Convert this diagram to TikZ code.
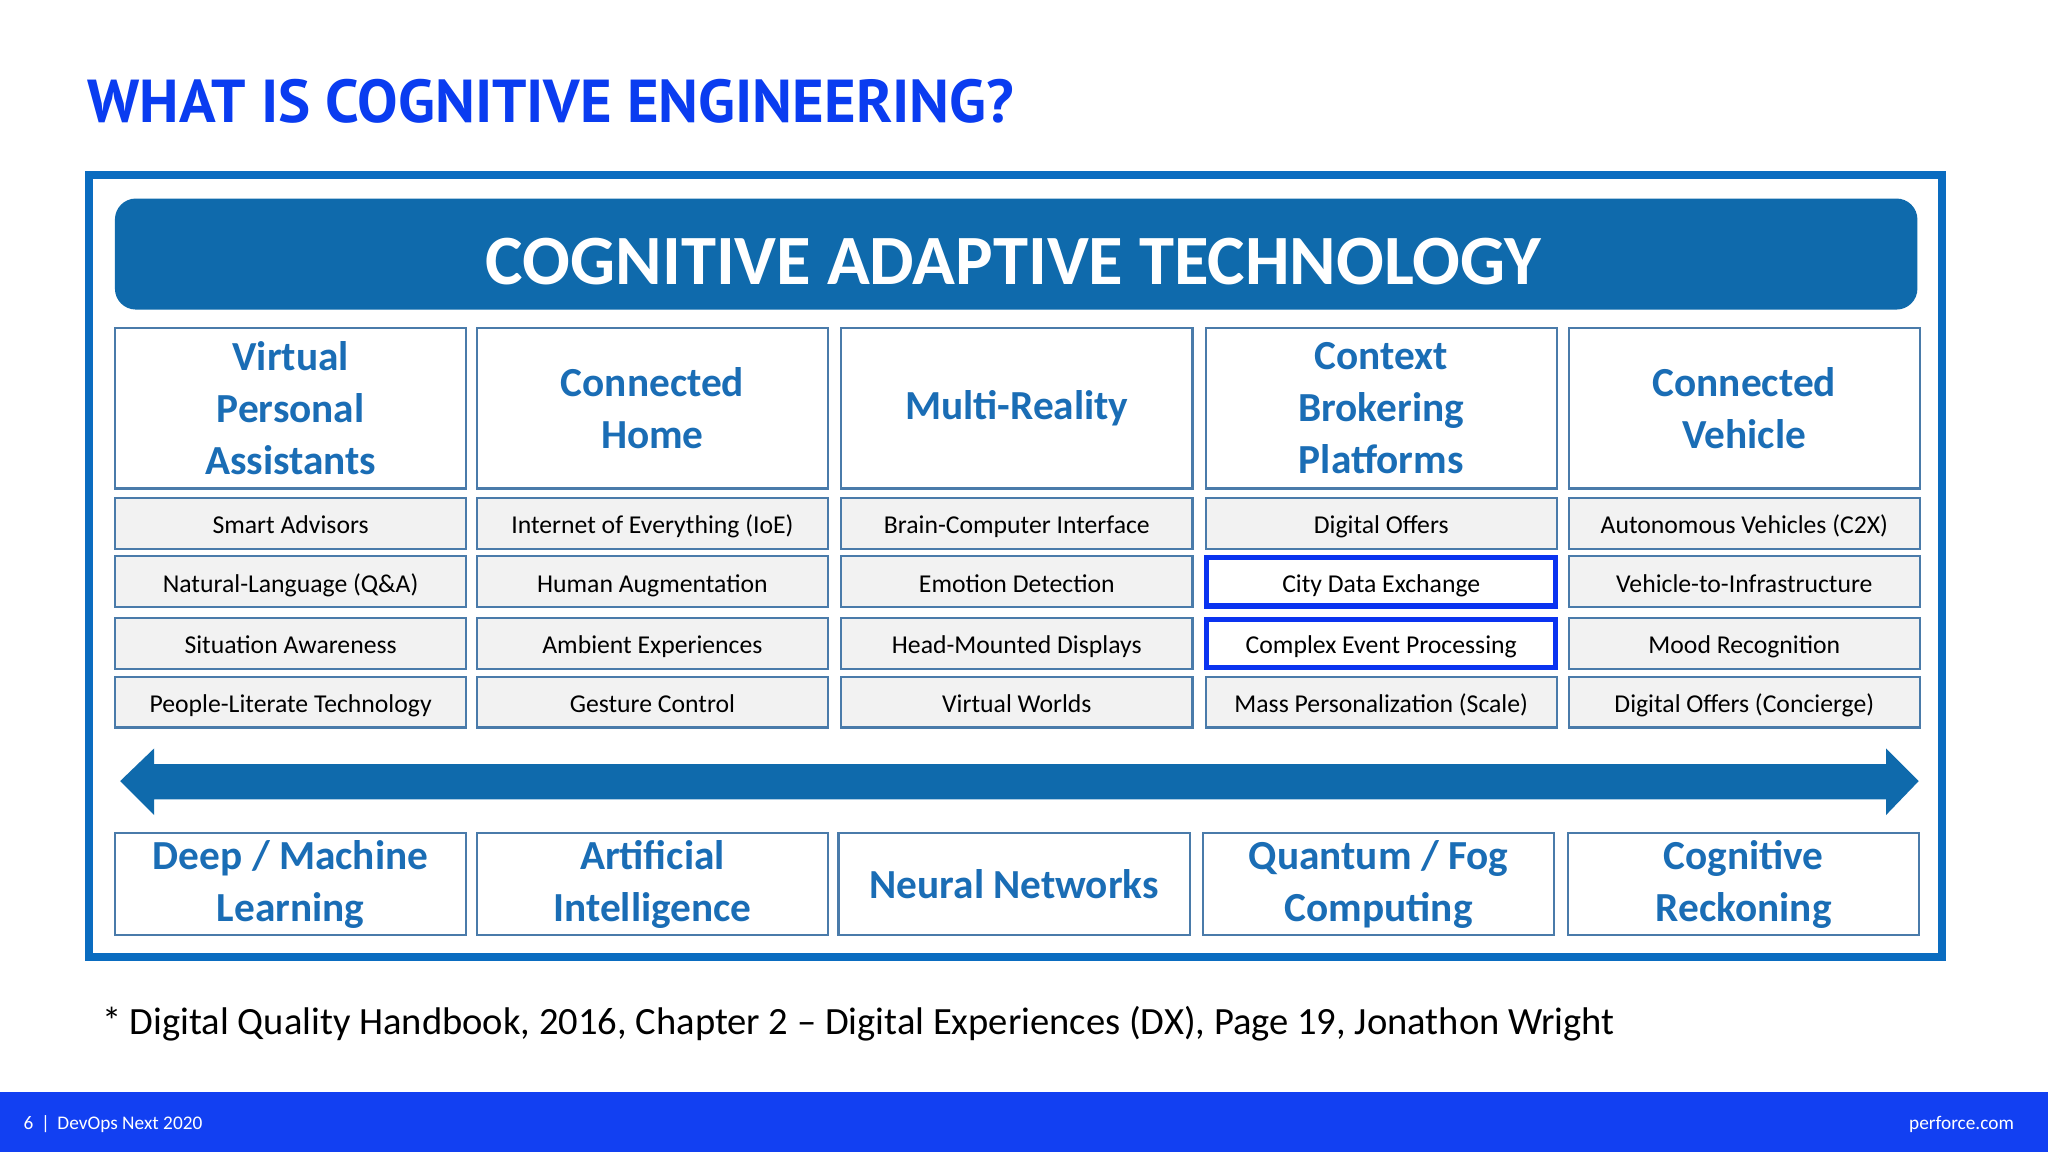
\documentclass[tikz,border=0pt]{standalone}
\usepackage{fontspec}
\setmainfont{Carlito}
\newfontfamily\titlefont{PT Sans}
\definecolor{ttl}{HTML}{0A3CF0}
\definecolor{frameblue}{HTML}{0A6CC0}
\definecolor{hdr}{HTML}{0F6AAC}
\definecolor{bord}{HTML}{4A7BAA}
\definecolor{htxt}{HTML}{1A6DB5}
\definecolor{cell}{HTML}{F2F2F2}
\definecolor{hil}{HTML}{0A33F0}
\definecolor{foot}{HTML}{1240F2}
\begin{document}
\begin{tikzpicture}[x=0.5mm,y=-0.5mm,
  colbox/.style={draw=bord,line width=0.8mm,fill=white,minimum width=134.5mm,minimum height=61.5mm,align=center,text=htxt,font=\fontsize{45}{57}\selectfont\bfseries,inner sep=0pt},
  itembox/.style={draw=bord,line width=0.8mm,fill=cell,minimum width=134.5mm,minimum height=19.5mm,font=\fontsize{28}{32}\selectfont,inner sep=0pt,text height=29pt,text depth=6pt},
  hibox/.style={draw=hil,line width=2mm,fill=white,minimum width=133.5mm,minimum height=18.5mm,font=\fontsize{28}{32}\selectfont,inner sep=0pt,text height=29pt,text depth=6pt},
  botbox/.style={draw=bord,line width=0.8mm,fill=white,minimum width=134.5mm,minimum height=39mm,align=center,text=htxt,font=\fontsize{45}{57}\selectfont\bfseries,inner sep=0pt}]
\useasboundingbox (0,0) rectangle (1568,882);
\fill[white] (0,0) rectangle (1568,882);
\node[anchor=base west,text=ttl,font=\titlefont\fontsize{66}{70}\selectfont\bfseries,inner sep=0pt] (title) at (67,94) {WHAT IS COGNITIVE ENGINEERING?};
\draw[frameblue,line width=3mm] (68,134) rectangle (1487,733);
\node[fill=hdr,rounded corners=8mm,minimum width=690mm,minimum height=42.5mm,inner sep=0pt] (hdr) at (778,194.5) {};
\node[anchor=base,text=white,font=\fontsize{77}{80}\selectfont\bfseries,inner sep=0pt] (hdrt) at (776,218) {COGNITIVE ADAPTIVE TECHNOLOGY};
\foreach \x/\t [count=\i] in {222.5/{Virtual\\Personal\\Assistants},499.5/{Connected\\Home},778.5/{Multi-Reality},1057.5/{Context\\Brokering\\Platforms},1335.5/{Connected\\Vehicle}}
  \node[colbox] (c\i) at (\x,312.5) {\t};
\foreach \x/\a/\b/\c/\d [count=\i] in {
 222.5/Smart Advisors/Natural-Language (Q\&A)/Situation Awareness/People-Literate Technology,
 499.5/Internet of Everything (IoE)/Human Augmentation/Ambient Experiences/Gesture Control,
 778.5/Brain-Computer Interface/Emotion Detection/Head-Mounted Displays/Virtual Worlds,
 1057.5/Digital Offers/X/X/Mass Personalization (Scale),
 1335.5/Autonomous Vehicles (C2X)/Vehicle-to-Infrastructure/Mood Recognition/Digital Offers (Concierge)}{
  \node[itembox] (r\i a) at (\x,400.5) {\a};
  \ifnum\i=4\else
  \node[itembox] (r\i b) at (\x,445.5) {\b};
  \node[itembox] (r\i c) at (\x,492.5) {\c};
  \fi
  \node[itembox] (r\i d) at (\x,537.5) {\d};
}
\node[hibox] (r4b) at (1057.5,445.5) {City Data Exchange};
\node[hibox] (r4c) at (1057.5,492.5) {Complex Event Processing};
\fill[hdr] (92,598) -- (118,573) -- (118,585) -- (1444,585) -- (1444,573) -- (1469,598) -- (1444,624) -- (1444,612) -- (118,612) -- (118,624) -- cycle;
\foreach \x/\t [count=\i] in {222.5/{Deep / Machine\\Learning},499.5/{Artificial\\Intelligence},776.5/{Neural Networks},1055.5/{Quantum / Fog\\Computing},1335/{Cognitive\\Reckoning}}
  \node[botbox] (b\i) at (\x,677) {\t};
\node[anchor=base west,inner sep=0pt,font=\fontsize{42}{46}\selectfont] (note) at (78,792) {* Digital Quality Handbook, 2016, Chapter 2 – Digital Experiences (DX), Page 19, Jonathon Wright};
\fill[foot] (0,836) rectangle (1568,882);
\node[anchor=base west,inner sep=0pt,text=white,font=\fontsize{21}{24}\selectfont] (pg) at (18,865) {6 \,|\, DevOps Next 2020};
\node[anchor=base east,inner sep=0pt,text=white,font=\fontsize{21}{24}\selectfont] (url) at (1542,865) {perforce.com};
\end{tikzpicture}
\end{document}
